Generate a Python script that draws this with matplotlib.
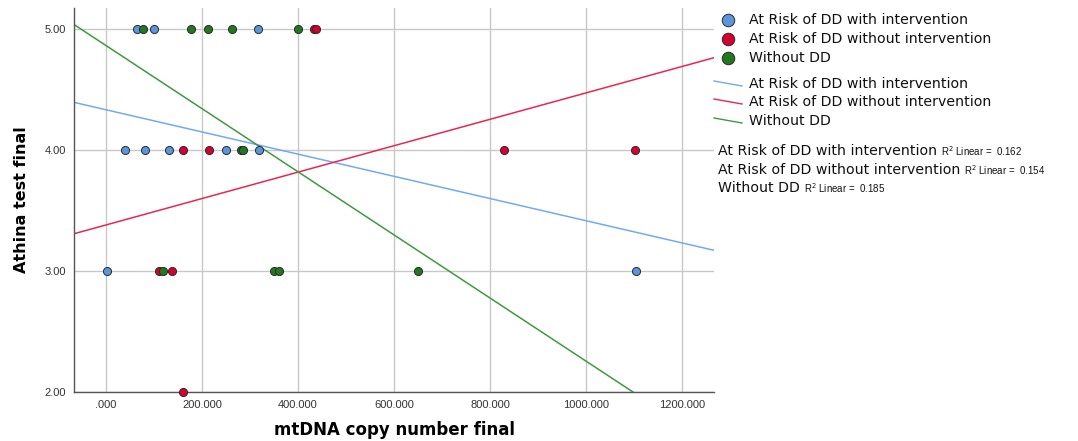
import numpy as np
import matplotlib
matplotlib.use("Agg")
import matplotlib.pyplot as plt
from matplotlib.lines import Line2D

# groups
groups = ["At Risk of DD with intervention", "At Risk of DD without intervention", "Without DD"]
r2_values = ["0.162", "0.154", "0.185"]

# points (mtDNA copy number, Athina score)
with_int_x = [65, 99, 317, 40, 82, 131, 250, 319, 2, 1105]
with_int_y = [5, 5, 5, 4, 4, 4, 4, 4, 3, 3]
without_int_x = [433, 437, 160, 215, 830, 1102, 110, 137, 160]
without_int_y = [5, 5, 4, 4, 4, 4, 3, 3, 2]
no_dd_x = [78, 178, 212, 263, 401, 282, 285, 119, 349, 360, 651]
no_dd_y = [5, 5, 5, 5, 5, 4, 4, 3, 3, 3, 3]

# linear fit lines (intercept, slope)
fit_intercepts = [4.33, 3.379, 4.86]
fit_slopes = [-0.000916, 0.00109, -0.002605]

x_ticks = [0, 200, 400, 600, 800, 1000, 1200]
x_ticklabels = [".000", "200.000", "400.000", "600.000", "800.000", "1000.000", "1200.000"]
y_ticks = [2, 3, 4, 5]
y_ticklabels = ["2.00", "3.00", "4.00", "5.00"]

point_colors = ["#5b96dc", "#d6002e", "#22781f"]
line_colors = ["#72aaf0", "#e8274f", "#3f9a3f"]

W, H = 1078, 441
fig = plt.figure(figsize=(W / 100, H / 100), dpi=100)
ax = fig.add_axes([74 / W, 1 - 392 / H, (714 - 74) / W, (392 - 8) / H])

xmin, xmax = -66.7, 1266.7
ax.set_xlim(xmin, xmax)
ax.set_ylim(2.0, 5.17)

# fit lines
xs = np.array([xmin, xmax])
for b, m, c in zip(fit_intercepts, fit_slopes, line_colors):
    ax.plot(xs, b + m * xs, color=c, lw=1.1, zorder=2)

# points
for px, py, c in zip([with_int_x, without_int_x, no_dd_x],
                     [with_int_y, without_int_y, no_dd_y], point_colors):
    ax.scatter(px, py, s=34, color=c, edgecolors="#2a2a2a", linewidths=0.7,
               zorder=3, clip_on=False)

ax.set_xticks(x_ticks)
ax.set_xticklabels(x_ticklabels)
ax.set_yticks(y_ticks)
ax.set_yticklabels(y_ticklabels)
ax.tick_params(length=0, labelsize=8, labelcolor="#333333", pad=6,
               labelfontfamily="Liberation Sans")
ax.grid(True, color="#c8c8c8", lw=1.0)
ax.set_axisbelow(True)
for s in ["top", "right"]:
    ax.spines[s].set_visible(False)
for s in ["left", "bottom"]:
    ax.spines[s].set_color("#555555")
    ax.spines[s].set_linewidth(1.0)

ax.set_xlabel("mtDNA copy number final", fontsize=12, fontweight="bold",
              labelpad=8)
ax.set_ylabel("Athina test final", fontsize=11.5, fontweight="bold", labelpad=11)

# legend: markers
leg_font = dict(fontsize=10.2, color="#111111", va="center")
marker_rows = [20, 39, 58]
for yy, c, g in zip(marker_rows, point_colors, groups):
    fig.add_artist(Line2D([728 / W], [1 - yy / H], marker="o", markersize=9,
                          markerfacecolor=c, markeredgecolor="#2a2a2a",
                          markeredgewidth=0.7, linestyle="none"))
    fig.text(749 / W, 1 - yy / H, g, **leg_font)

# legend: lines
line_rows = [84, 102, 121]
for yy, c, g in zip(line_rows, line_colors, groups):
    fig.add_artist(Line2D([714 / W, 742 / W], [1 - (yy - 3) / H, 1 - (yy + 2) / H],
                          color=c, lw=1.0))
    fig.text(749 / W, 1 - yy / H, g, **leg_font)

# R squared notes
fig.canvas.draw()
renderer = fig.canvas.get_renderer()
r2_rows = [151, 170, 188]
for yy, g, r in zip(r2_rows, groups, r2_values):
    t = fig.text(718 / W, 1 - yy / H, g, **leg_font)
    bb = t.get_window_extent(renderer)
    x0 = (bb.x1 + 4) / W
    fig.text(x0, 1 - yy / H, r"R$^2$ Linear =  " + r, fontsize=7,
             color="#111111", va="center", family="Liberation Sans")

fig.savefig("out.png", dpi=100)
